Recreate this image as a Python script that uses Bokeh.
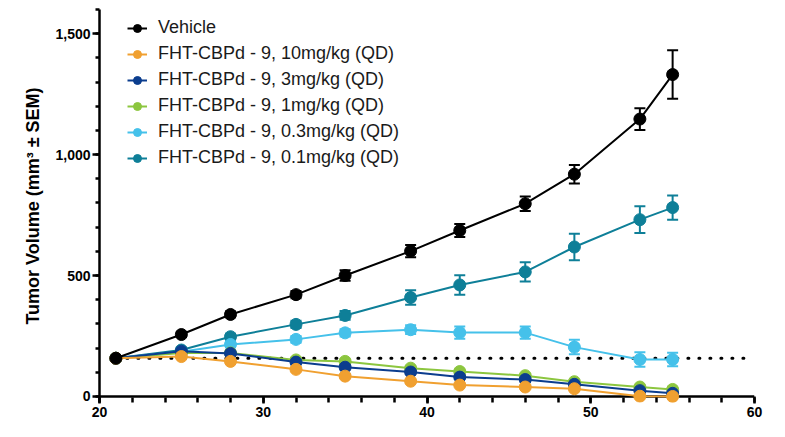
from bokeh.plotting import figure
from bokeh.models import (Range1d, FixedTicker, NumeralTickFormatter, Whisker, TeeHead,
                          ColumnDataSource, Legend, LegendItem, Span)
from bokeh.embed import file_html
from bokeh.resources import INLINE

# ---- data ----
days = [21, 25, 28, 32, 35, 39, 42, 46, 49, 53, 55]

vehicle = [158, 256, 339, 421, 500, 601, 686, 797, 919, 1147, 1331]
vehicle_sem = [5, 10, 12, 15, 22, 25, 27, 30, 38, 45, 100]

dose_10 = [158, 165, 145, 112, 84, 63, 47, 39, 32, 1, 0]
dose_10_sem = [5, 6, 7, 8, 8, 7, 6, 6, 5, 1, 0]

dose_3 = [158, 187, 178, 142, 121, 101, 80, 70, 50, 24, 13]
dose_3_sem = [5, 8, 8, 9, 9, 8, 8, 8, 7, 5, 4]

dose_1 = [158, 180, 180, 151, 145, 117, 103, 86, 61, 39, 29]
dose_1_sem = [5, 8, 8, 9, 9, 8, 8, 8, 7, 6, 5]

dose_03 = [158, 185, 215, 236, 263, 276, 264, 264, 204, 153, 153]
dose_03_sem = [5, 10, 12, 14, 15, 18, 25, 25, 30, 30, 28]

dose_01 = [158, 192, 247, 298, 335, 409, 461, 515, 618, 731, 781]
dose_01_sem = [5, 10, 12, 15, 18, 30, 40, 40, 55, 55, 50]

baseline_value = 158
baseline_x = [21, 59.5]

labels = ["Vehicle",
          "FHT-CBPd - 9, 10mg/kg (QD)",
          "FHT-CBPd - 9, 3mg/kg (QD)",
          "FHT-CBPd - 9, 1mg/kg (QD)",
          "FHT-CBPd - 9, 0.3mg/kg (QD)",
          "FHT-CBPd - 9, 0.1mg/kg (QD)"]
colors = ["#000000", "#F0A030", "#0B3D8E", "#8CC63F", "#45C1EA", "#0E7F98"]
series = [vehicle, dose_10, dose_3, dose_1, dose_03, dose_01]
sems = [vehicle_sem, dose_10_sem, dose_3_sem, dose_1_sem, dose_03_sem, dose_01_sem]

x_major = [20, 30, 40, 50, 60]
x_minor = list(range(20, 61, 2))
y_major = [0, 500, 1000, 1500]
y_minor = list(range(0, 1601, 100))

# ---- figure ----
# the frame reaches a little below 0 so that markers sitting on 0 are not cut;
# the x-axis line itself is drawn at 0
p = figure(frame_width=655, frame_height=393,
           x_range=Range1d(20, 60), y_range=Range1d(-25, 1600),
           output_backend="svg", toolbar_location=None,
           min_border_left=99, min_border_right=20, min_border_top=9, min_border_bottom=14)
p.outline_line_color = None
p.grid.visible = False
p.background_fill_color = "white"

FONT = "Liberation Sans"
for ax in (p.xaxis[0], p.yaxis[0]):
    ax.axis_line_width = 2.5
    ax.major_tick_line_width = 2.5
    ax.minor_tick_line_width = 2.5
    ax.major_tick_in = 0
    ax.minor_tick_in = 0
    ax.major_tick_out = 7
    ax.minor_tick_out = 4
    ax.major_label_text_font = FONT
    ax.major_label_text_font_style = "bold"
    ax.major_label_text_font_size = "14px"
    ax.major_label_text_color = "black"
    ax.axis_line_color = "black"
    ax.major_tick_line_color = "black"
    ax.minor_tick_line_color = "black"

p.xaxis.ticker = FixedTicker(ticks=x_major, minor_ticks=x_minor)
p.xaxis.axis_line_color = None
p.xaxis.major_tick_in = 6
p.xaxis.major_tick_out = 1
p.xaxis.minor_tick_in = 5
p.xaxis.minor_tick_out = 0
p.xaxis.major_label_standoff = 3

p.add_layout(Span(location=0, dimension="width", line_color="black",
                  line_width=2.5, level="underlay"))

p.yaxis.ticker = FixedTicker(ticks=y_major, minor_ticks=y_minor)
p.yaxis.formatter = NumeralTickFormatter(format="0,0")
p.yaxis.major_label_standoff = 2
p.yaxis.axis_label = "Tumor Volume (mm³ ± SEM)"
p.yaxis.axis_label_text_font = FONT
p.yaxis.axis_label_text_font_style = "bold"
p.yaxis.axis_label_text_font_size = "18px"
p.yaxis.axis_label_text_color = "black"
p.yaxis.axis_label_standoff = 9

# dotted baseline
p.line(x=baseline_x, y=[baseline_value] * len(baseline_x), line_color="black",
       line_width=3, line_dash="1 10", line_cap="round")

items = {}
# draw last series first so Vehicle ends on top
for lab, col, vals, err in reversed(list(zip(labels, colors, series, sems))):
    src = ColumnDataSource(dict(x=days, y=vals,
                                upper=[v + e for v, e in zip(vals, err)],
                                lower=[v - e for v, e in zip(vals, err)]))
    w = Whisker(source=src, base="x", upper="upper", lower="lower", dimension="height",
                line_color=col, line_width=2, level="underlay",
                upper_head=TeeHead(size=11, line_color=col, line_width=2),
                lower_head=TeeHead(size=11, line_color=col, line_width=2))
    p.add_layout(w)
    ln = p.line("x", "y", source=src, line_color=col, line_width=2)
    sc = p.scatter("x", "y", source=src, size=12, fill_color=col, line_color=col)
    items[lab] = [ln, sc]

legend = Legend(items=[LegendItem(label=lab, renderers=items[lab]) for lab in labels],
                location=(28, 234), padding=0, margin=0, spacing=5,
                glyph_width=20, glyph_height=20, label_height=20, label_standoff=11,
                label_text_font=FONT, label_text_font_size="18px", label_text_color="#1a1a1a",
                border_line_color=None, background_fill_alpha=0)
p.add_layout(legend)

open("out.html", "w").write(file_html(p, INLINE))
